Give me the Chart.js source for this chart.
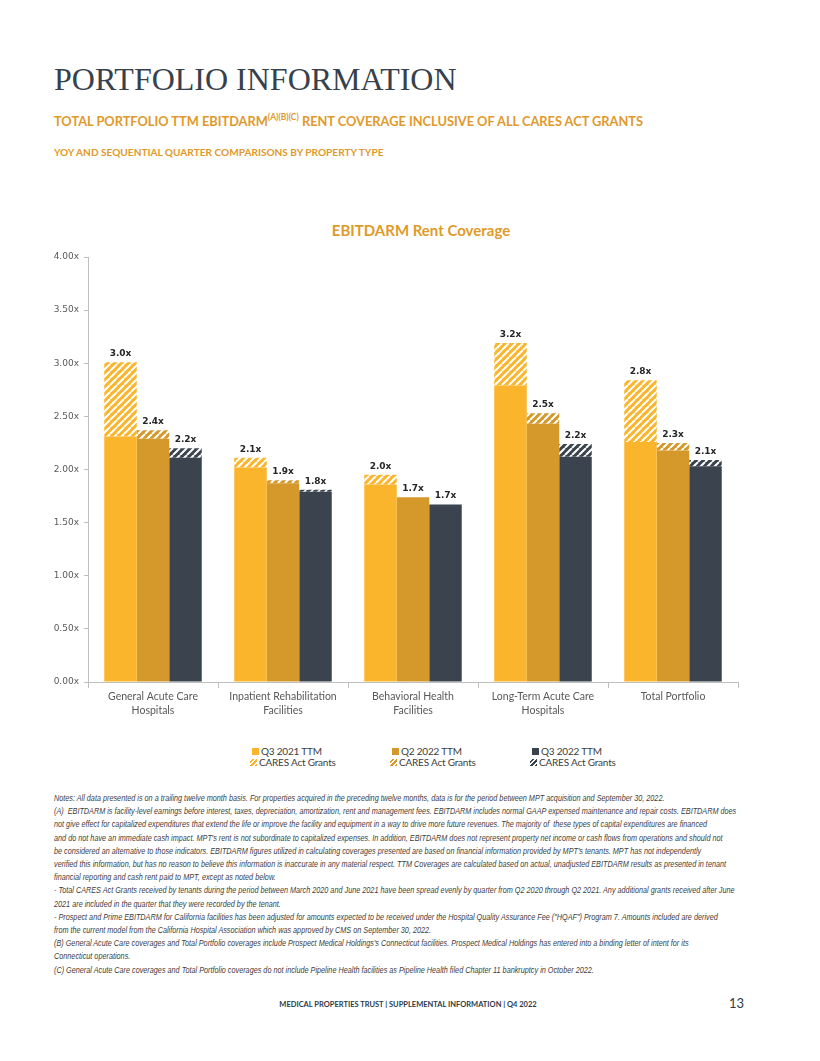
<!DOCTYPE html>
<html>
<head>
<meta charset="utf-8">
<script src="https://cdn.jsdelivr.net/npm/chart.js@4.4.1/dist/chart.umd.min.js"></script>
<style>
body { margin: 0; background: #fff; width: 820px; height: 1061px; position: relative; overflow: hidden; font-family: Lato, sans-serif; }
.abs { position: absolute; white-space: nowrap; }
#h1 { left: 54px; top: 61px; font-family: "Liberation Serif", serif; font-size: 32px; color: #36414c; letter-spacing: 0; }
#h2 { left: 54px; top: 113px; font-weight: bold; font-size: 12.8px; color: #e0992b; }
#h2 sup { font-size: 8.5px; vertical-align: 6px; line-height: 0; }
#h3 { left: 54px; top: 146px; font-weight: bold; font-size: 10.1px; color: #e0992b; }
#ctitle { left: 0; width: 842px; text-align: center; top: 221px; font-weight: bold; font-size: 15px; color: #de9b2a; }
#wrap { position: absolute; left: 40px; top: 245px; width: 710px; height: 487px; }
.leg { position: absolute; font-size: 10px; letter-spacing: -0.2px; color: #404040; line-height: 11px; }
.leg span { display: inline-block; width: 7px; height: 7px; margin-right: 2px; vertical-align: 0px; }
#notes { left: 54px; top: 792px; font-family: "Liberation Sans Narrow", "Liberation Sans", sans-serif; font-style: italic; font-size: 8.6px; line-height: 13.2px; color: #404040; transform: scaleX(0.845); transform-origin: 0 0; }
#foot { left: 0; width: 816px; text-align: center; top: 1000px; font-weight: bold; font-size: 7.5px; color: #2e3a46; }
#page { left: 729px; top: 995px; font-size: 13px; color: #2e3a46; }
</style>
</head>
<body>
<div class="abs" id="h1">PORTFOLIO INFORMATION</div>
<div class="abs" id="h2">TOTAL PORTFOLIO TTM EBITDARM<sup>(A)(B)(C)</sup> RENT COVERAGE INCLUSIVE OF ALL CARES ACT GRANTS</div>
<div class="abs" id="h3">YOY AND SEQUENTIAL QUARTER COMPARISONS BY PROPERTY TYPE</div>
<div class="abs" id="ctitle">EBITDARM Rent Coverage</div>
<div id="wrap"><canvas id="chart"></canvas></div>
<div id="legend"></div>
<div class="abs" id="notes">Notes: All data presented is on a trailing twelve month basis. For properties acquired in the preceding twelve months, data is for the period between MPT acquisition and September 30, 2022.<br>
(A)&nbsp; EBITDARM is facility-level earnings before interest, taxes, depreciation, amortization, rent and management fees. EBITDARM includes normal GAAP expensed maintenance and repair costs. EBITDARM does<br>
not give effect for capitalized expenditures that extend the life or improve the facility and equipment in a way to drive more future revenues. The majority of&nbsp; these types of capital expenditures are financed<br>
and do not have an immediate cash impact. MPT's rent is not subordinate to capitalized expenses. In addition, EBITDARM does not represent property net income or cash flows from operations and should not<br>
be considered an alternative to those indicators. EBITDARM figures utilized in calculating coverages presented are based on financial information provided by MPT's tenants. MPT has not independently<br>
verified this information, but has no reason to believe this information is inaccurate in any material respect. TTM Coverages are calculated based on actual, unadjusted EBITDARM results as presented in tenant<br>
financial reporting and cash rent paid to MPT, except as noted below.<br>
- Total CARES Act Grants received by tenants during the period between March 2020 and June 2021 have been spread evenly by quarter from Q2 2020 through Q2 2021. Any additional grants received after June<br>
2021 are included in the quarter that they were recorded by the tenant.<br>
- Prospect and Prime EBITDARM for California facilities has been adjusted for amounts expected to be received under the Hospital Quality Assurance Fee ("HQAF") Program 7. Amounts included are derived<br>
from the current model from the California Hospital Association which was approved by CMS on September 30, 2022.<br>
(B) General Acute Care coverages and Total Portfolio coverages include Prospect Medical Holdings's Connecticut facilities. Prospect Medical Holdings has entered into a binding letter of intent for its<br>
Connecticut operations.<br>
(C) General Acute Care coverages and Total Portfolio coverages do not include Pipeline Health facilities as Pipeline Health filed Chapter 11 bankruptcy in October 2022.</div>
<div class="abs" id="foot">MEDICAL PROPERTIES TRUST | SUPPLEMENTAL INFORMATION | Q4 2022</div>
<div class="abs" id="page">13</div>

<script>
// chart data
const categories = [
    ["General Acute Care", "Hospitals"],
    ["Inpatient Rehabilitation", "Facilities"],
    ["Behavioral Health", "Facilities"],
    ["Long-Term Acute Care", "Hospitals"],
    ["Total Portfolio"]
];
const seriesNames = ["Q3 2021 TTM", "Q2 2022 TTM", "Q3 2022 TTM"];
const grantsName = "CARES Act Grants";

// coverage without grants, and the extra from CARES Act grants
const q3_2021 = [2.31, 2.02, 1.86, 2.79, 2.26];
const q3_2021Grants = [0.70, 0.09, 0.09, 0.40, 0.58];
const q2_2022 = [2.29, 1.87, 1.74, 2.43, 2.18];
const q2_2022Grants = [0.08, 0.03, 0, 0.10, 0.07];
const q3_2022 = [2.11, 1.79, 1.67, 2.12, 2.03];
const q3_2022Grants = [0.09, 0.02, 0, 0.12, 0.06];

// labels printed on top of each bar
const q3_2021Labels = ["3.0x", "2.1x", "2.0x", "3.2x", "2.8x"];
const q2_2022Labels = ["2.4x", "1.9x", "1.7x", "2.5x", "2.3x"];
const q3_2022Labels = ["2.2x", "1.8x", "1.7x", "2.2x", "2.1x"];

const yMin = 0, yMax = 4, yStep = 0.5;

const colors = ["#fbb52c", "#d4982b", "#3b444e"];

function hatch(color) {
    const s = 7;
    const c = document.createElement("canvas");
    c.width = s; c.height = s;
    const g = c.getContext("2d");
    g.fillStyle = color;
    g.fillRect(0, 0, s, s);
    g.strokeStyle = "#ffffff";
    g.lineWidth = 2;
    g.beginPath();
    for (let o = -s; o <= s; o += s) {
        g.moveTo(o, s);
        g.lineTo(o + s, 0);
    }
    g.stroke();
    return g.createPattern(c, "repeat");
}

const bases = [q3_2021, q2_2022, q3_2022];
const grants = [q3_2021Grants, q2_2022Grants, q3_2022Grants];
const topLabels = [q3_2021Labels, q2_2022Labels, q3_2022Labels];

let datasets = [];
for (let s = 0; s < 3; s++) {
    datasets.push({
        label: seriesNames[s],
        data: bases[s],
        backgroundColor: colors[s],
        stack: "s" + s
    });
    datasets.push({
        label: grantsName,
        data: grants[s],
        backgroundColor: hatch(colors[s]),
        stack: "s" + s
    });
}

const valueLabels = {
    id: "valueLabels",
    afterDatasetsDraw(chart) {
        const ctx = chart.ctx;
        ctx.save();
        ctx.font = 'bold 9px "DejaVu Sans"';
        ctx.fillStyle = "#262626";
        ctx.textAlign = "center";
        ctx.textBaseline = "bottom";
        for (let s = 0; s < 3; s++) {
            chart.getDatasetMeta(s * 2 + 1).data.forEach((bar, i) => {
                ctx.fillText(topLabels[s][i], bar.x, bar.y - 4);
            });
        }
        ctx.restore();
    }
};

new Chart(document.getElementById("chart"), {
    type: "bar",
    data: { labels: categories, datasets: datasets },
    options: {
        responsive: true,
        maintainAspectRatio: false,
        animation: false,
        layout: { padding: { top: 12, right: 12, bottom: 5, left: 0 } },
        datasets: { bar: { categoryPercentage: 0.75, barPercentage: 1, borderWidth: 0 } },
        plugins: { legend: { display: false }, tooltip: { enabled: false } },
        scales: {
            x: {
                stacked: true,
                grid: { display: true, drawOnChartArea: false, tickLength: 6, color: "#bfbfbf" },
                border: { color: "#bfbfbf" },
                ticks: { color: "#595959", font: { family: "Lato", size: 10.5, lineHeight: 1.4 }, padding: 1, maxRotation: 0 },
                afterFit: s => { s.height = 45; }
            },
            y: {
                stacked: true,
                min: yMin,
                max: yMax,
                grid: { display: true, drawOnChartArea: false, tickLength: 4, color: "#bfbfbf" },
                border: { color: "#bfbfbf" },
                ticks: {
                    stepSize: yStep,
                    color: "#595959",
                    font: { family: "DejaVu Sans", size: 9 },
                    padding: 5,
                    callback: v => v.toFixed(2) + "x"
                },
                afterFit: s => { s.width = 48; }
            }
        }
    },
    plugins: [valueLabels]
});

// legend: two rows, one column per series
const legendX = [252, 392, 532];
const leg = document.getElementById("legend");
for (let s = 0; s < 3; s++) {
    const a = document.createElement("div");
    a.className = "leg";
    a.style.left = legendX[s] + "px";
    a.style.top = "746px";
    a.innerHTML = '<span style="background:' + colors[s] + '"></span>' + seriesNames[s];
    leg.appendChild(a);
    const b = document.createElement("div");
    b.className = "leg";
    b.style.left = (legendX[s] - 2) + "px";
    b.style.top = "757px";
    b.innerHTML = '<span style="background:repeating-linear-gradient(-45deg,' + colors[s] + ' 0 2px,#fff 2px 3.2px)"></span>' + grantsName;
    leg.appendChild(b);
}
</script>
</body>
</html>
